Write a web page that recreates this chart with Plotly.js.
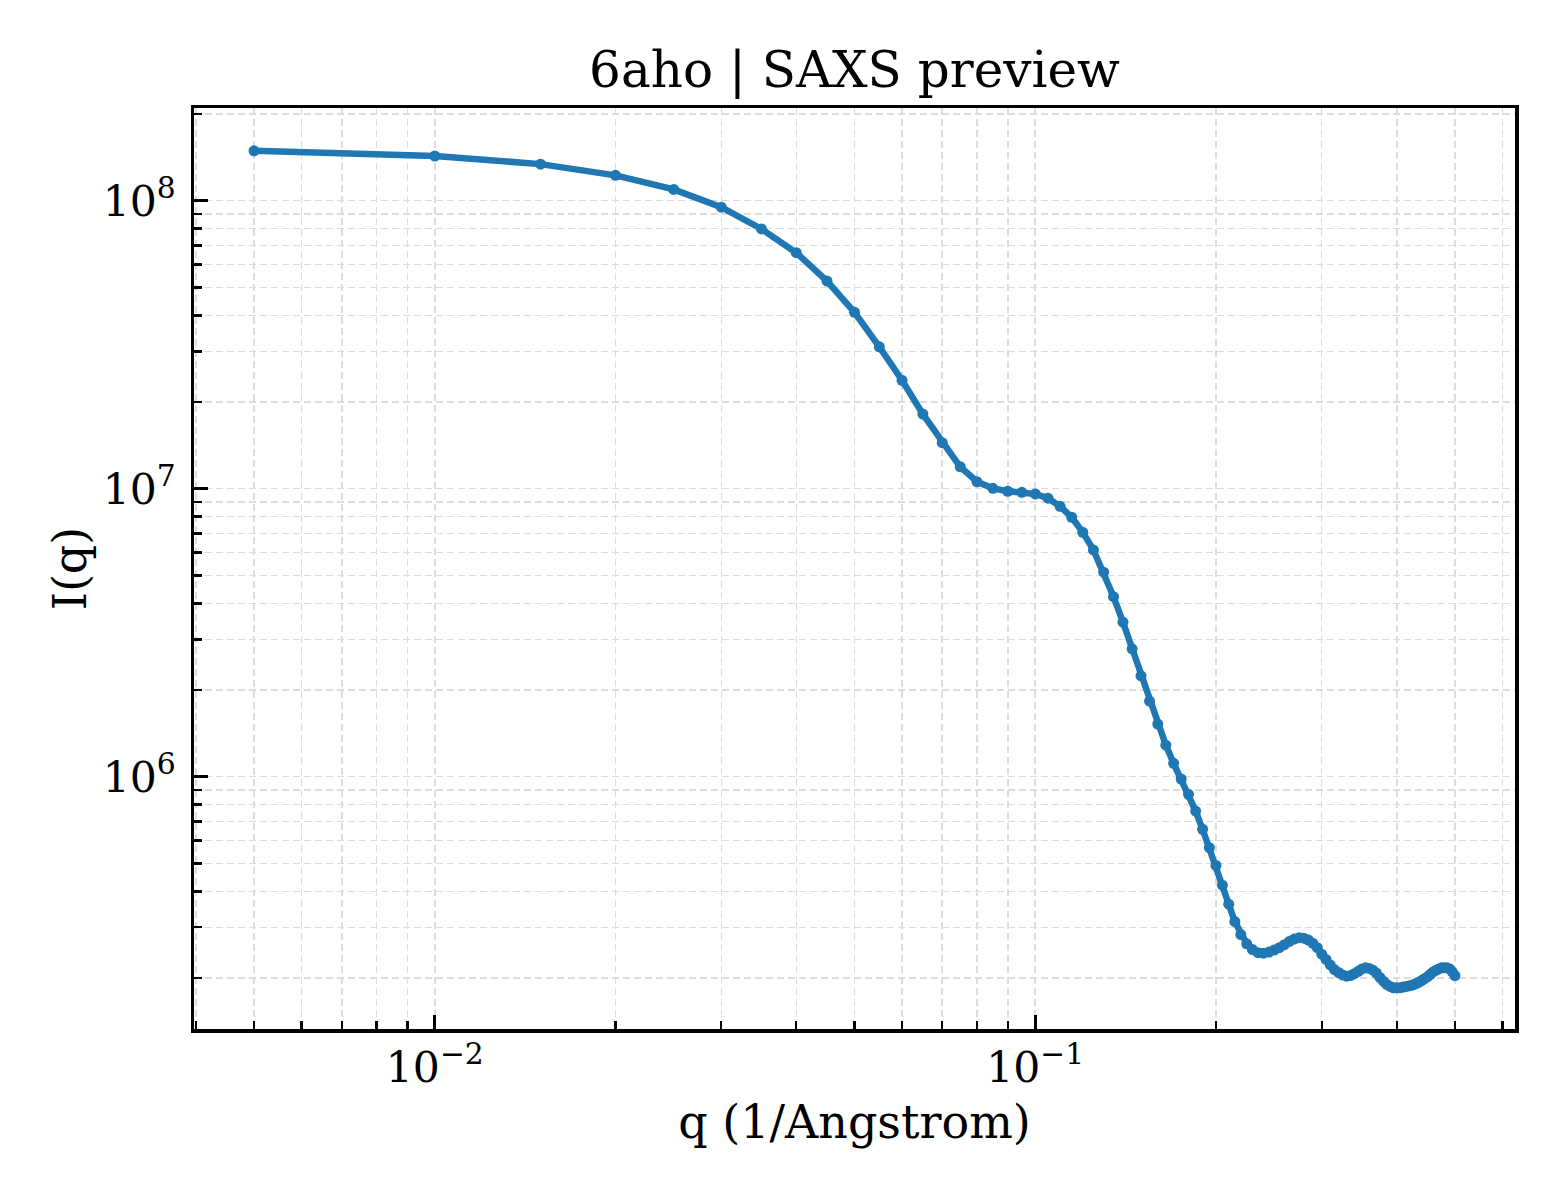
<!DOCTYPE html>
<html>
<head>
<meta charset="utf-8">
<script src="https://cdn.plot.ly/plotly-3.0.1.min.js"></script>
<style>
  html, body { margin: 0; padding: 0; background: #fff; }
  #saxs { width: 1560px; height: 1200px; }
</style>
</head>
<body>
<div id="saxs"></div>
<script>
// scattering vector q (1/Angstrom)
var q = [0.005, 0.010, 0.015, 0.020, 0.025, 0.030, 0.035, 0.040, 0.045, 0.050,
         0.055, 0.060, 0.065, 0.070, 0.075, 0.080, 0.085, 0.090, 0.095, 0.100,
         0.105, 0.110, 0.115, 0.120, 0.125, 0.130, 0.135, 0.140, 0.145, 0.150,
         0.155, 0.160, 0.165, 0.170, 0.175, 0.180, 0.185, 0.190, 0.195, 0.200,
         0.205, 0.210, 0.215, 0.220, 0.225, 0.230, 0.235, 0.240, 0.245, 0.250,
         0.255, 0.260, 0.265, 0.270, 0.275, 0.280, 0.285, 0.290, 0.295, 0.300,
         0.305, 0.310, 0.315, 0.320, 0.325, 0.330, 0.335, 0.340, 0.345, 0.350,
         0.355, 0.360, 0.365, 0.370, 0.375, 0.380, 0.385, 0.390, 0.395, 0.400,
         0.405, 0.410, 0.415, 0.420, 0.425, 0.430, 0.435, 0.440, 0.445, 0.450,
         0.455, 0.460, 0.465, 0.470, 0.475, 0.480, 0.485, 0.490, 0.495, 0.500]

// intensity I(q)
var intensity = [1.49e8, 1.43e8, 1.34e8, 1.225e8, 1.095e8, 9.5e7, 7.98e7, 6.6e7, 5.26e7, 4.1e7,
                 3.11e7, 2.38e7, 1.816e7, 1.445e7, 1.192e7, 1.057e7, 1.003e7, 9.8e6, 9.72e6, 9.59e6,
                 9.27e6, 8.69e6, 7.96e6, 7.06e6, 6.13e6, 5.13e6, 4.22e6, 3.44e6, 2.78e6, 2.24e6,
                 1.83e6, 1.524e6, 1.287e6, 1.113e6, 9.82e5, 8.69e5, 7.6e5, 6.57e5, 5.67e5, 4.92e5,
                 4.2e5, 3.61e5, 3.14e5, 2.83e5, 2.63e5, 2.51e5, 2.45e5, 2.44e5, 2.46e5, 2.50e5,
                 2.55e5, 2.61e5, 2.68e5, 2.73e5, 2.76e5, 2.75e5, 2.71e5, 2.64e5, 2.55e5, 2.42e5,
                 2.32e5, 2.22e5, 2.14e5, 2.09e5, 2.05e5, 2.03e5, 2.04e5, 2.07e5, 2.11e5, 2.15e5,
                 2.17e5, 2.16e5, 2.13e5, 2.08e5, 2.01e5, 1.95e5, 1.90e5, 1.87e5, 1.85e5, 1.85e5,
                 1.85e5, 1.86e5, 1.87e5, 1.88e5, 1.89e5, 1.91e5, 1.93e5, 1.96e5, 1.99e5, 2.02e5,
                 2.06e5, 2.10e5, 2.13e5, 2.15e5, 2.17e5, 2.17e5, 2.17e5, 2.15e5, 2.10e5, 2.04e5]

var serif = 'DejaVu Serif, Liberation Serif, serif'
var blue = '#1f77b4'

function logAxis(range, titleText, standoff, labelGap) {
    return {
        type: 'log',
        range: range,
        dtick: 1,
        exponentformat: 'power',
        showexponent: 'all',
        ticks: 'inside',
        ticklen: 14,
        tickwidth: 3,
        tickcolor: '#000',
        ticklabelstandoff: labelGap,
        tickfont: {family: serif, size: 34, color: '#000'},
        showline: true,
        linecolor: '#000',
        linewidth: 3.5,
        mirror: true,
        showgrid: true,
        gridcolor: '#dcdcdc',
        gridwidth: 1.5,
        griddash: '7px,4px',
        zeroline: false,
        minor: {
            dtick: 'D1',
            ticks: 'inside',
            ticklen: 8,
            tickwidth: 2.4,
            tickcolor: '#000',
            showgrid: true,
            gridcolor: '#dcdcdc',
            gridwidth: 1.5,
            griddash: '7px,4px'
        },
        title: {text: titleText, standoff: standoff,
                font: {family: serif, size: 46, color: '#000'}}
    }
}

window.onload = () => {
    var trace = {
        x: q,
        y: intensity,
        mode: 'lines+markers',
        line: {color: blue, width: 6.5},
        marker: {color: blue, size: 11},
        showlegend: false,
        hoverinfo: 'skip'
    }

    var layout = {
        width: 1560,
        height: 1200,
        margin: {l: 194, r: 45, t: 108, b: 171},
        paper_bgcolor: '#fff',
        plot_bgcolor: '#fff',
        font: {family: serif, color: '#000'},
        title: {
            text: '6aho | SAXS preview',
            font: {family: serif, size: 50, color: '#000'},
            xref: 'paper', x: 0.5, xanchor: 'center',
            yref: 'container', y: 0.942, yanchor: 'middle'
        },
        xaxis: logAxis([-2.401, -0.201], 'q (1/Angstrom)', 16, 0),
        yaxis: logAxis([5.124, 8.322], 'I(q)', 2, 8)
    }

    Plotly.newPlot('saxs', [trace], layout, {displayModeBar: false, staticPlot: true})
}
</script>
</body>
</html>
